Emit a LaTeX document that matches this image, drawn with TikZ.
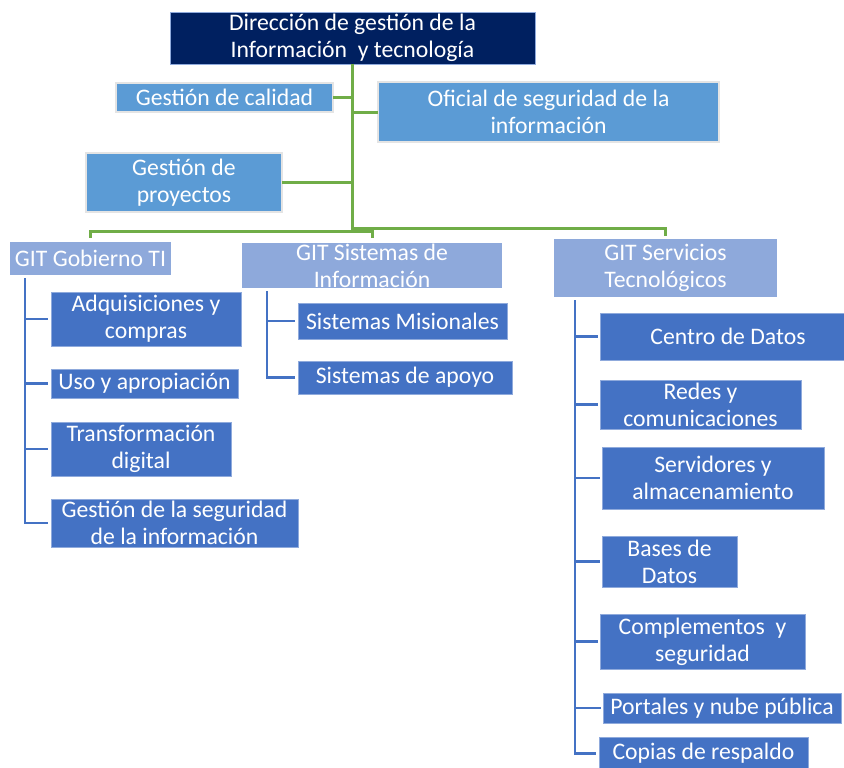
\documentclass[tikz,border=0pt]{standalone}
\usepackage{fontspec}
\setmainfont{Carlito}
\definecolor{navy}{HTML}{002060}
\definecolor{midblue}{HTML}{5B9BD5}
\definecolor{hdrblue}{HTML}{8EA9DB}
\definecolor{chblue}{HTML}{4472C4}
\definecolor{chedge}{HTML}{8FAADC}
\definecolor{grn}{HTML}{70AD47}
\definecolor{shadowgray}{HTML}{E4E4E4}
\begin{document}
\begin{tikzpicture}[x=1pt,y=-1pt,
  every node/.style={inner sep=0pt, outer sep=0pt, align=center, text=white,
    font=\fontsize{23.7}{27}\selectfont},
  topbox/.style={fill=navy, draw=chedge, line width=0.8pt},
  midbox/.style={fill=midblue, draw=shadowgray, line width=2.5pt},
  hdrbox/.style={fill=hdrblue, draw=none},
  chbox/.style={fill=chblue, draw=chedge, line width=0.8pt},
  gline/.style={draw=grn, line width=3pt},
  bline/.style={draw=chblue, line width=2.5pt},
  bx/.style n args={2}{minimum width=#1pt, minimum height=#2pt}
]
\clip (0,0) rectangle (844,768);
\fill[white] (0,0) rectangle (844,768);

% top
\node[topbox, bx={365}{52}] (top) at (352.5,38) {Dirección de gestión de la\\Información\ \ y tecnología};
\node[midbox, bx={217}{29}] (cal) at (224.5,97.5) {Gestión de calidad};
\node[midbox, bx={341}{60}] (ofi) at (548.5,112) {Oficial de seguridad de la\\información};
\node[midbox, bx={196}{59}] (pro) at (184,182.5) {Gestión de\\proyectos};

% headers
\node[hdrbox, bx={161}{33}] (gob) at (90.5,258.5) {GIT Gobierno TI};
\node[hdrbox, bx={260}{45}] (sis) at (372,265.5) {GIT Sistemas de\\Información};
\node[hdrbox, bx={223}{58}] (ser) at (665.5,268) {GIT Servicios\\Tecnológicos};

% gobierno children
\node[chbox, bx={190}{54}] (adq) at (146,319) {Adquisiciones y\\compras};
\node[chbox, bx={187}{29}] (uso) at (144.5,383.5) {Uso y apropiación};
\node[chbox, bx={180}{54}] (tra) at (141,449) {Transformación\\digital};
\node[chbox, bx={247}{48}] (seg) at (174.5,523) {Gestión de la seguridad\\de la información};

% sistemas children
\node[chbox, bx={209}{36}] (mis) at (402.5,321) {Sistemas Misionales};
\node[chbox, bx={214}{33}] (apo) at (405,377.5) {Sistemas de apoyo};

% servicios children
\node[chbox, bx={256}{47}] (cen) at (728,336.5) {Centro de Datos};
\node[chbox, bx={201}{49}] (red) at (700.5,404.5) {Redes y\\comunicaciones};
\node[chbox, bx={222}{62}] (srv) at (713,478) {Servidores y\\almacenamiento};
\node[chbox, bx={135}{51}] (bas) at (669.5,561.5) {Bases de\\Datos};
\node[chbox, bx={205}{55}] (com) at (702.5,641.5) {Complementos\ \ y\\seguridad};
\node[chbox, bx={238}{30}] (por) at (722,708) {Portales y nube pública};
\node[chbox, bx={209}{33}] (cop) at (703.5,753.5) {Copias de respaldo};

% green connectors
\coordinate (hubL) at (352.5,231);
\coordinate (hubR) at (352.5,228);
\draw[gline] (top.south) -- (hubL);
\draw[gline, shorten >=1.5pt] (cal.east) -- (cal.east -| hubL);
\draw[gline] (ofi.west -| hubL) -- (ofi.west);
\draw[gline] (pro.east) -- (pro.east -| hubL);
\draw[gline, shorten >=4pt] (hubL) -| (gob.north);
\draw[gline, shorten >=5pt] (hubL) -| (sis.north);
\draw[gline, shorten >=3pt] (hubR) -| (ser.north);

% blue connectors: gobierno
\coordinate (gobT) at (25,278);
\draw[bline, shorten >=3pt] (gobT) |- (seg.west);
\foreach \n in {adq,uso,tra}
  \draw[bline, shorten >=3pt] (\n.west -| gobT) -- (\n.west);

% sistemas
\coordinate (sisT) at (267,291);
\draw[bline, shorten >=3pt] (sisT) |- (apo.west);
\draw[bline, shorten >=3pt] (mis.west -| sisT) -- (mis.west);

% servicios
\coordinate (serT) at (575,300);
\draw[bline, shorten >=3pt] (serT) |- (cop.west);
\foreach \n in {cen,red,srv,bas,com,por}
  \draw[bline, shorten >=2pt] (\n.west -| serT) -- (\n.west);
\end{tikzpicture}
\end{document}
